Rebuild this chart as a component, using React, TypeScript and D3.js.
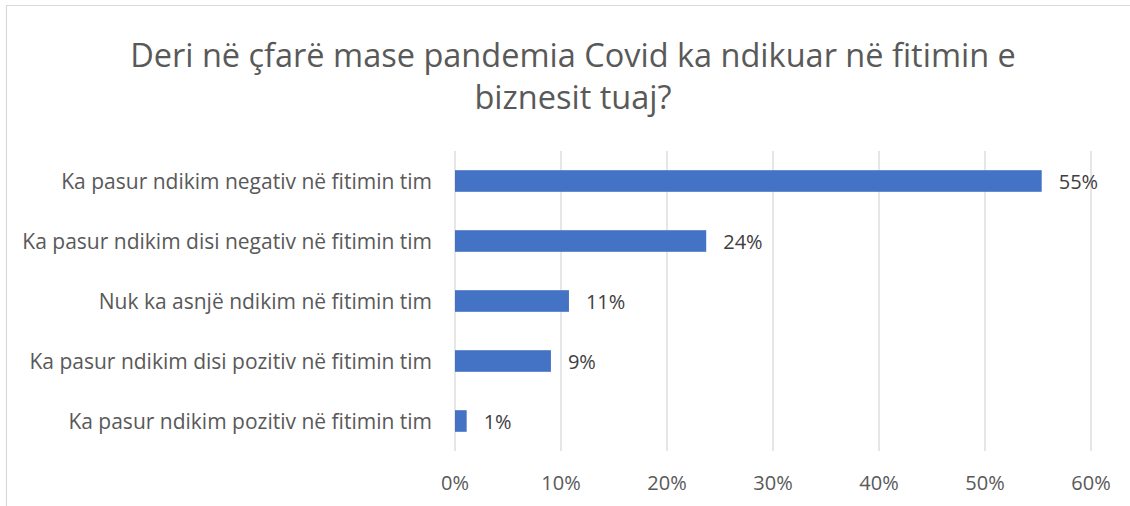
import React from 'react';
import * as d3 from 'd3';

// data
const categories = [
  'Ka pasur ndikim negativ në fitimin tim',
  'Ka pasur ndikim disi negativ në fitimin tim',
  'Nuk ka asnjë ndikim në fitimin tim',
  'Ka pasur ndikim disi pozitiv në fitimin tim',
  'Ka pasur ndikim pozitiv në fitimin tim',
];
const values = [55.35, 23.7, 10.75, 9.05, 1.1];
const ticks = [0, 10, 20, 30, 40, 50, 60];
const titleLines = ['Deri në çfarë mase pandemia Covid ka ndikuar në fitimin e', 'biznesit tuaj?'];

const width = 1130;
const height = 506;
const font = '"Open Sans", sans-serif';
const textColor = '#595959';

export default function App() {
  const plot = { left: 455, right: 1091, top: 151, bottom: 451 };

  const x = d3.scaleLinear().domain([0, 60]).range([plot.left, plot.right]);
  const y = d3.scaleBand<string>()
    .domain(categories)
    .range([plot.top, plot.bottom])
    .paddingInner(0.64)
    .paddingOuter(0.32);

  return (
    <svg
      width={width}
      height={height}
      viewBox={`0 0 ${width} ${height}`}
      style={{ position: 'fixed', left: 0, top: 0, background: '#fff' }}
    >
      {/* chart frame */}
      <path d={`M6.5,${height} V5.5 H${width}`} fill="none" stroke="#d9d9d9" strokeWidth={1.2} />

      {/* title */}
      <text textAnchor="middle" fill={textColor} fontFamily={font} fontSize={32.5}>
        {titleLines.map((line, i) => (
          <tspan key={i} x={573} y={67 + i * 42}>{line}</tspan>
        ))}
      </text>

      {/* gridlines */}
      {ticks.map(t => (
        <line key={t} x1={x(t)} x2={x(t)} y1={plot.top} y2={plot.bottom} stroke="#d9d9d9" strokeWidth={1.3} />
      ))}

      {/* x tick labels */}
      {ticks.map(t => (
        <text key={t} x={x(t)} y={490} textAnchor="middle" fill={textColor} fontFamily={font} fontSize={20}>
          {`${t}%`}
        </text>
      ))}

      {/* bars */}
      {categories.map((c, i) => (
        <rect key={c} x={x(0)} y={y(c)} width={x(values[i]) - x(0)} height={y.bandwidth()} fill="#4472c4" />
      ))}

      {/* value labels */}
      {categories.map((c, i) => (
        <text
          key={c}
          x={x(values[i]) + 17}
          y={(y(c) ?? 0) + y.bandwidth() / 2 + 8}
          fill="#404040"
          fontFamily={font}
          fontSize={20}
        >
          {`${Math.round(values[i])}%`}
        </text>
      ))}

      {/* category labels */}
      {categories.map(c => (
        <text
          key={c}
          x={432}
          y={(y(c) ?? 0) + y.bandwidth() / 2 + 8}
          textAnchor="end"
          fill={textColor}
          fontFamily={font}
          fontSize={21}
        >
          {c}
        </text>
      ))}
    </svg>
  );
}
